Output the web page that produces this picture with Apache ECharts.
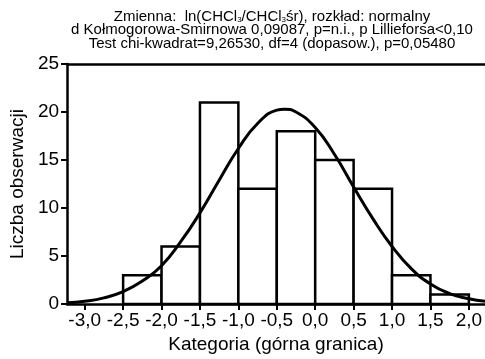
<!DOCTYPE html>
<html>
<head>
<meta charset="utf-8">
<script src="https://cdn.jsdelivr.net/npm/echarts@6/dist/echarts.min.js"></script>
<style>html,body{margin:0;padding:0;background:#fff}#c{width:485px;height:359px}</style>
</head>
<body>
<div id="c"></div>
<script>
// Histogram bins (lower edge) and observed counts
var binLower = [-2.5, -2.0, -1.5, -1.0, -0.5, 0.0, 0.5, 1.0, 1.5];
var binWidth = 0.5;
var counts = [3, 6, 21, 12, 18, 15, 12, 3, 1];
// Fitted normal curve
var curveX = [-3.23, -3.0, -2.75, -2.5, -2.25, -2.0, -1.75, -1.5, -1.25, -1.0, -0.75, -0.5, -0.4, -0.25, 0.0, 0.25, 0.5, 0.75, 1.0, 1.25, 1.5, 1.75, 2.0, 2.21];
var curveY = [0.15, 0.3, 0.65, 1.3, 2.4, 4.0, 6.5, 9.5, 12.9, 16.2, 18.8, 20.2, 20.3, 20.0, 18.4, 15.6, 12.2, 8.9, 6.0, 3.7, 2.1, 1.1, 0.55, 0.3];
// Tick values
var xTicks = [-3.0, -2.5, -2.0, -1.5, -1.0, -0.5, 0.0, 0.5, 1.0, 1.5, 2.0];
var yTicks = [0, 5, 10, 15, 20, 25];

var barData = binLower.map(function (x0, i) { return [x0, x0 + binWidth, counts[i]]; });
var curveData = curveX.map(function (x, i) { return [x, curveY[i]]; });

var FONT = '"Liberation Sans", Arial, sans-serif';
var chart = echarts.init(document.getElementById('c'), null, { renderer: 'canvas' });
chart.setOption({
  animation: false,
  backgroundColor: '#fff',
  title: {
    left: 272, top: 10, textAlign: 'center', padding: 0,
    text: '{a|Zmienna:  ln(CHCl}{s|3}{a|/CHCl}{s|3}{a|śr), rozkład: normalny}\n' +
          '{a|d Kołmogorowa-Smirnowa 0,09087, p=n.i., p Lillieforsa<0,10}\n' +
          '{a|Test chi-kwadrat=9,26530, df=4 (dopasow.), p=0,05480}',
    textStyle: {
      fontFamily: FONT, fontSize: 15, color: '#000', fontWeight: 'normal',
      rich: {
        a: { fontFamily: FONT, fontSize: 15, color: '#000', lineHeight: 13.5 },
        s: { fontFamily: FONT, fontSize: 8, color: '#000', lineHeight: 13.5, padding: [7, 0, 0, 0] }
      }
    }
  },
  grid: { left: 64, top: 64, right: 0, bottom: 53 },
  xAxis: [{
    type: 'value', min: -3.23, max: 2.21,
    name: 'Kategoria (górna granica)', nameLocation: 'middle', nameGap: 28,
    nameTextStyle: { fontFamily: FONT, fontSize: 19, color: '#000' },
    axisLine: { show: true, onZero: false, lineStyle: { color: '#000', width: 2.5 } },
    axisTick: { show: true, customValues: xTicks, length: 6, lineStyle: { color: '#000', width: 2 } },
    axisLabel: {
      customValues: xTicks, margin: 7, fontFamily: FONT, fontSize: 19, color: '#000',
      formatter: function (v) { return v.toFixed(1).replace('.', ','); }
    },
    splitLine: { show: false }
  }, {
    type: 'value', position: 'top', min: -3.23, max: 2.21,
    axisLine: { show: true, onZero: false, lineStyle: { color: '#000', width: 2.5 } },
    axisTick: { show: false }, axisLabel: { show: false }, splitLine: { show: false }
  }],
  yAxis: {
    type: 'value', min: 0, max: 25, interval: 5,
    name: 'Liczba obserwacji', nameLocation: 'middle', nameGap: 36,
    nameTextStyle: { fontFamily: FONT, fontSize: 19, color: '#000' },
    axisLine: { show: true, onZero: false, lineStyle: { color: '#000', width: 2.5 } },
    axisTick: { show: true, length: 6, lineStyle: { color: '#000', width: 2 } },
    axisLabel: { margin: 8, fontFamily: FONT, fontSize: 19, color: '#000' },
    splitLine: { show: false }
  },
  series: [{
    type: 'custom',
    xAxisIndex: 0,
    renderItem: function (params, api) {
      var p0 = api.coord([api.value(0), api.value(2)]);
      var p1 = api.coord([api.value(1), 0]);
      return {
        type: 'rect',
        shape: { x: p0[0], y: p0[1], width: p1[0] - p0[0], height: p1[1] - p0[1] },
        style: { fill: '#fff', stroke: '#000', lineWidth: 2.5 }
      };
    },
    encode: { x: [0, 1], y: 2 },
    data: barData,
    z: 2
  }, {
    type: 'line',
    xAxisIndex: 0,
    data: curveData,
    smooth: true,
    showSymbol: false,
    symbol: 'none',
    lineStyle: { color: '#000', width: 3 },
    z: 3
  }]
});
</script>
</body>
</html>
